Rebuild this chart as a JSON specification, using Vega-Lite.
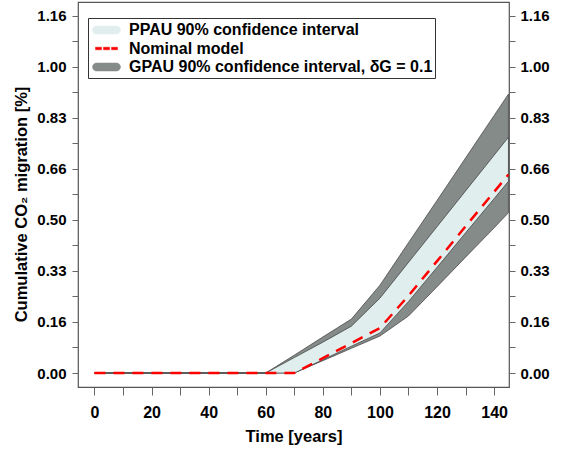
{
  "$schema": "https://vega.github.io/schema/vega-lite/v6.json",
  "width": 431,
  "height": 385,
  "autosize": {"type": "none"},
  "padding": {"left": 78, "top": 2, "right": 60, "bottom": 65},
  "background": "white",
  "config": {
    "view": {"stroke": "#555555", "strokeWidth": 1.2},
    "font": "Liberation Sans",
    "axis": {
      "domain": false,
      "grid": false,
      "tickColor": "#666666",
      "tickWidth": 1,
      "labelFont": "Liberation Sans",
      "labelFontWeight": "bold",
      "labelFontSize": 15,
      "labelColor": "#000000",
      "labelOverlap": false,
      "labelFlush": false,
      "titleFont": "Liberation Sans",
      "titleFontWeight": "bold",
      "titleFontSize": 16.5,
      "titleColor": "#000000"
    },
    "legend": {
      "orient": "none",
      "legendX": 10,
      "legendY": 16,
      "symbolSize": 324,
      "symbolStrokeWidth": 0.5,
      "symbolOffset": 6.5,
      "symbolOpacity": 1,
      "labelFont": "Liberation Sans",
      "labelFontWeight": "bold",
      "labelFontSize": 16,
      "labelColor": "#000000",
      "labelOffset": 13,
      "labelLimit": 0,
      "rowPadding": 0.5,
      "padding": 2.5,
      "strokeColor": "#333333",
      "fillColor": "#ffffff"
    }
  },
  "data": {
    "values": [
      {"t": 0, "gl": 0, "pl": 0, "nm": 0, "pu": 0, "gu": 0},
      {"t": 10, "gl": 0, "pl": 0, "nm": 0, "pu": 0, "gu": 0},
      {"t": 20, "gl": 0, "pl": 0, "nm": 0, "pu": 0, "gu": 0},
      {"t": 30, "gl": 0, "pl": 0, "nm": 0, "pu": 0, "gu": 0},
      {"t": 40, "gl": 0, "pl": 0, "nm": 0, "pu": 0, "gu": 0},
      {"t": 50, "gl": 0, "pl": 0, "nm": 0, "pu": 0, "gu": 0},
      {"t": 60, "gl": 0, "pl": 0, "nm": 0, "pu": 0, "gu": 0},
      {"t": 70, "gl": 0, "pl": 0, "nm": 0, "pu": 0.05, "gu": 0.058},
      {"t": 80, "gl": 0.04, "pl": 0.043, "nm": 0.048, "pu": 0.1, "gu": 0.117},
      {"t": 90, "gl": 0.08, "pl": 0.087, "nm": 0.097, "pu": 0.152, "gu": 0.175},
      {"t": 100, "gl": 0.12, "pl": 0.13, "nm": 0.146, "pu": 0.243, "gu": 0.285},
      {"t": 110, "gl": 0.185, "pl": 0.232, "nm": 0.251, "pu": 0.359, "gu": 0.423},
      {"t": 120, "gl": 0.28, "pl": 0.343, "nm": 0.363, "pu": 0.475, "gu": 0.56},
      {"t": 130, "gl": 0.376, "pl": 0.455, "nm": 0.476, "pu": 0.591, "gu": 0.698},
      {"t": 140, "gl": 0.471, "pl": 0.566, "nm": 0.588, "pu": 0.707, "gu": 0.836},
      {"t": 145, "gl": 0.52, "pl": 0.622, "nm": 0.644, "pu": 0.765, "gu": 0.905}
    ]
  },
  "encoding": {
    "x": {
      "field": "t",
      "type": "quantitative",
      "scale": {"domain": [-5.75, 145.2], "nice": false, "zero": false},
      "axis": {
        "title": "Time [years]",
        "values": [0, 10, 20, 30, 40, 50, 60, 70, 80, 90, 100, 110, 120, 130, 140],
        "labelExpr": "datum.value % 20 === 0 ? datum.label : ''",
        "tickSize": 8,
        "labelFontSize": 16,
        "labelPadding": 9,
        "titlePadding": 8
      }
    }
  },
  "layer": [
    {
      "mark": {"type": "area", "stroke": "#3a3a3a", "strokeWidth": 0.7, "opacity": 1},
      "encoding": {
        "y": {
          "field": "gl",
          "type": "quantitative",
          "scale": {"domain": [-0.0454, 1.204], "nice": false, "zero": false},
          "axis": {
            "orient": "left",
            "title": "Cumulative CO₂ migration [%]",
            "values": [0, 0.0828571, 0.1657143, 0.2485714, 0.3314286, 0.4142857, 0.4971429, 0.58, 0.6628571, 0.7457143, 0.8285714, 0.9114286, 0.9942857, 1.0771429, 1.16],
            "labelExpr": "round(datum.value/0.0828571) % 2 === 0 ? ['0.00','0.16','0.33','0.50','0.66','0.83','1.00','1.16'][round(datum.value/0.1657143)] : ''",
            "tickSize": 6,
            "labelPadding": 6,
            "titlePadding": 7,
            "titleY": 202
          }
        },
        "y2": {"field": "gu"},
        "color": {
          "datum": "GPAU 90% confidence interval, δG = 0.1",
          "type": "nominal",
          "scale": {
            "domain": ["PPAU 90% confidence interval", "Nominal model", "GPAU 90% confidence interval, δG = 0.1"],
            "range": ["#e0eeee", "#ff0000", "#858b88"]
          },
          "legend": {
            "title": null,
            "symbolType": {"expr": "datum.value === 'Nominal model' ? 'M-1.222,-0.139H-0.556V0.139H-1.222Z M-0.333,-0.139H0.333V0.139H-0.333Z M0.556,-0.139H1.222V0.139H0.556Z' : 'M-1.111,-0.444L1.111,-0.444A0.444,0.444 0 0 1 1.111,0.444L-1.111,0.444A0.444,0.444 0 0 1 -1.111,-0.444Z'"}
          }
        }
      }
    },
    {
      "mark": {"type": "area", "stroke": "#3a3a3a", "strokeWidth": 0.7, "opacity": 1},
      "encoding": {
        "y": {
          "field": "pl",
          "type": "quantitative",
          "scale": {"domain": [-0.0454, 1.204], "nice": false, "zero": false},
          "axis": {
            "orient": "right",
            "title": null,
            "values": [0, 0.0828571, 0.1657143, 0.2485714, 0.3314286, 0.4142857, 0.4971429, 0.58, 0.6628571, 0.7457143, 0.8285714, 0.9114286, 0.9942857, 1.0771429, 1.16],
            "labelExpr": "round(datum.value/0.0828571) % 2 === 0 ? ['0.00','0.16','0.33','0.50','0.66','0.83','1.00','1.16'][round(datum.value/0.1657143)] : ''",
            "tickSize": 6,
            "labelPadding": 5
          }
        },
        "y2": {"field": "pu"},
        "color": {
          "datum": "PPAU 90% confidence interval",
          "type": "nominal",
          "legend": {
            "title": null,
            "symbolType": {"expr": "datum.value === 'Nominal model' ? 'M-1.222,-0.139H-0.556V0.139H-1.222Z M-0.333,-0.139H0.333V0.139H-0.333Z M0.556,-0.139H1.222V0.139H0.556Z' : 'M-1.111,-0.444L1.111,-0.444A0.444,0.444 0 0 1 1.111,0.444L-1.111,0.444A0.444,0.444 0 0 1 -1.111,-0.444Z'"}
          }
        }
      }
    },
    {
      "mark": {"type": "line", "strokeWidth": 2.5, "strokeDash": [11, 8], "opacity": 1},
      "encoding": {
        "y": {
          "field": "nm",
          "type": "quantitative",
          "scale": {"domain": [-0.0454, 1.204], "nice": false, "zero": false},
          "axis": null
        },
        "color": {
          "datum": "Nominal model",
          "type": "nominal",
          "legend": {
            "title": null,
            "symbolType": {"expr": "datum.value === 'Nominal model' ? 'M-1.222,-0.139H-0.556V0.139H-1.222Z M-0.333,-0.139H0.333V0.139H-0.333Z M0.556,-0.139H1.222V0.139H0.556Z' : 'M-1.111,-0.444L1.111,-0.444A0.444,0.444 0 0 1 1.111,0.444L-1.111,0.444A0.444,0.444 0 0 1 -1.111,-0.444Z'"}
          }
        }
      }
    }
  ],
  "resolve": {"axis": {"y": "independent"}}
}
